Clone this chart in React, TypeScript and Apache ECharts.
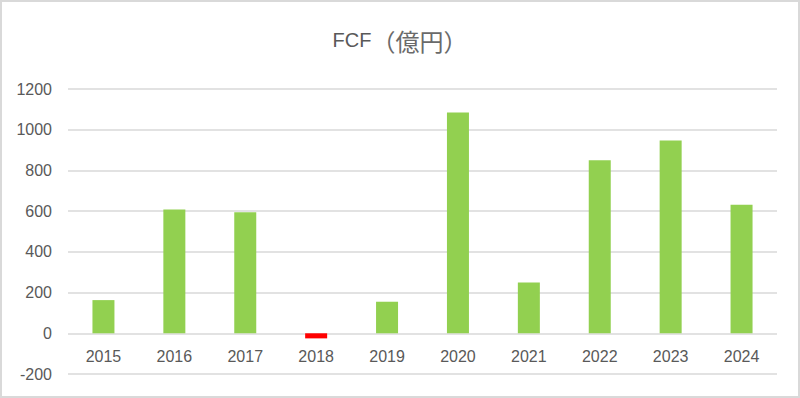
import React, { useEffect, useRef } from "react";
import * as echarts from "echarts";

const years = ["2015", "2016", "2017", "2018", "2019", "2020", "2021", "2022", "2023", "2024"];
const fcf = [163, 608, 594, -25, 155, 1084, 250, 850, 947, 631];
const yTicks = { min: -200, max: 1200, interval: 200 };

export default function App() {
  const ref = useRef<HTMLDivElement>(null);
  useEffect(() => {
    if (!ref.current) return;
    const chart = echarts.init(ref.current, null, { renderer: "svg" });
    chart.setOption({
      animation: false,
      backgroundColor: "#ffffff",
      textStyle: { fontFamily: "Liberation Sans, Arial, sans-serif" },
      title: {
        text: "{a|FCF}{b|（億円）}",
        left: "center",
        top: 23,
        textStyle: {
          fontWeight: "normal",
          rich: {
            a: { fontSize: 20, fontWeight: "normal", color: "#595959", fontFamily: "Liberation Sans, Arial, sans-serif" },
            b: { fontSize: 24, fontWeight: "normal", color: "#6a6a6a", fontFamily: "Noto Sans CJK JP" },
          },
        },
      },
      grid: { left: 68, right: 23, top: 89, bottom: 24, containLabel: false, outerBoundsMode: "none" },
      xAxis: {
        type: "category",
        data: years,
        axisLine: { show: false, onZero: false },
        axisTick: { show: false },
        axisLabel: { color: "#595959", fontSize: 16, margin: -26 },
      },
      yAxis: {
        type: "value",
        min: yTicks.min,
        max: yTicks.max,
        interval: yTicks.interval,
        axisLine: { show: false },
        axisTick: { show: false },
        axisLabel: { color: "#595959", fontSize: 16, margin: 16, formatter: (v: number) => String(v) },
        splitLine: { lineStyle: { color: "#d9d9d9", width: 1.5 } },
      },
      series: [
        {
          type: "bar",
          data: fcf,
          barWidth: 22,
          itemStyle: {
            color: (p: any) => (p.value < 0 ? "#ff0000" : "#92d050"),
          },
        },
      ],
      graphic: [
        {
          type: "rect",
          shape: { x: 1, y: 1, width: 798, height: 396 },
          style: { fill: "none", stroke: "#d9d9d9", lineWidth: 2 },
          silent: true,
        },
      ],
    });
    return () => chart.dispose();
  }, []);
  return (
    <div
      ref={ref}
      style={{ position: "fixed", left: 0, top: 0, width: 800, height: 398 }}
    />
  );
}
